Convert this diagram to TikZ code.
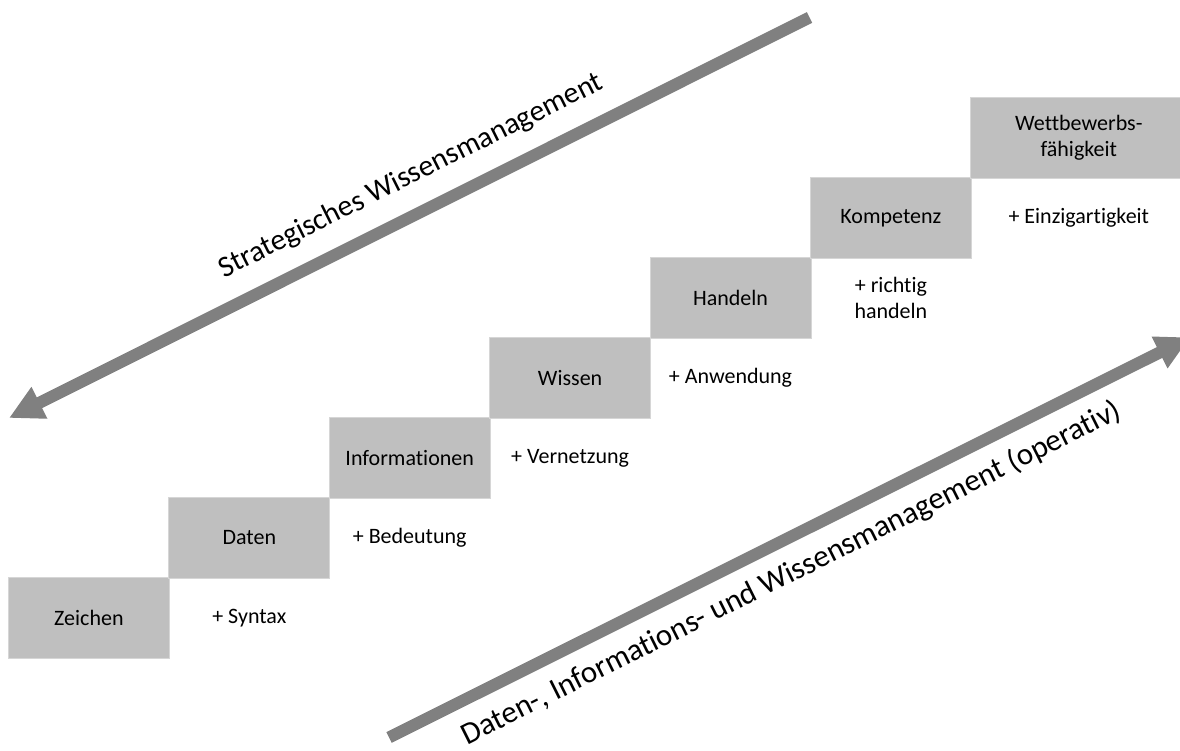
\documentclass[tikz,border=0pt]{standalone}
\usepackage{fontspec}
\setmainfont[Ligatures=NoCommon]{Carlito}
\usetikzlibrary{arrows.meta}
\definecolor{stepfill}{RGB}{191,191,191}
\definecolor{stepedge}{RGB}{214,214,214}
\definecolor{arrowgray}{RGB}{128,128,128}
\begin{document}
\begin{tikzpicture}[x=1pt,y=-1pt,
  stepbox/.style={fill=stepfill,draw=stepedge,line width=0.8pt,anchor=north west,
    minimum width=161pt,minimum height=81pt,inner sep=0pt,align=center,
    font=\fontsize{22}{26.5}\selectfont},
  gain/.style={align=center,inner sep=0pt,font=\fontsize{22}{26.5}\selectfont},
  bigarrow/.style={draw=arrowgray,line width=12pt,
    -{Triangle[length=34pt,width=33pt,fill=arrowgray]}},
  arrowtext/.style={inner sep=0pt,rotate=26.57}]
\useasboundingbox (0,0) rectangle (1180,751);
\clip (0,0) rectangle (1180,751);

% staircase of steps
\node[stepbox] (zeichen) at (8,577) {Zeichen};
\node[stepbox] (daten) at (168.4,497) {Daten};
\node[stepbox] (info) at (328.8,417) {Informationen};
\node[stepbox] (wissen) at (489.2,337) {Wissen};
\node[stepbox] (handeln) at (649.6,257) {Handeln};
\node[stepbox] (kompetenz) at (810,177) {Kompetenz};
\node[stepbox,minimum width=216pt] (wettbewerb) at (970.4,97) {Wettbewerbs-\\fähigkeit};

% what each step adds
\node[gain] (g1) at (daten.center |- zeichen.center) {+ Syntax};
\node[gain] (g2) at (info.center |- daten.center) {+ Bedeutung};
\node[gain] (g3) at (wissen.center |- info.center) {+ Vernetzung};
\node[gain] (g4) at (handeln.center |- wissen.center) {+ Anwendung};
\node[gain] (g5) at (kompetenz.center |- handeln.center) {+ richtig\\handeln};
\node[gain] (g6) at (wettbewerb.center |- kompetenz.center) {+ Einzigartigkeit};

% the two management directions
\coordinate (sTail) at (809.5,17.5);
\coordinate (sTip) at (9,418);
\coordinate (oTail) at (389,737.5);
\coordinate (oTip) at (1190,337.3);
\draw[bigarrow] (sTail) -- (sTip);
\draw[bigarrow] (oTail) -- (oTip);

\node[arrowtext,font=\fontsize{29.8}{34}\selectfont] (strat) at (411,176)
  {Strategisches Wissensmanagement};
\node[arrowtext,font=\fontsize{31}{36}\selectfont] (oper) at (791.5,573.3)
  {Daten-, Informations- und Wissensmanagement (operativ)};
\end{tikzpicture}
\end{document}
